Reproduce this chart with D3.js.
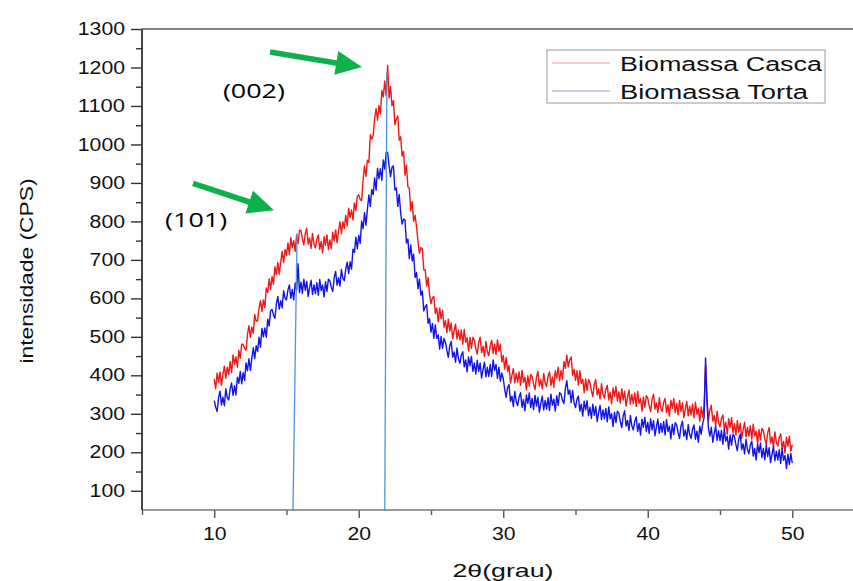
<!DOCTYPE html>
<html>
<head>
<meta charset="utf-8">
<script src="https://cdn.jsdelivr.net/npm/d3@7"></script>
<style>
  html, body { margin: 0; padding: 0; background: #fff; }
  svg { display: block; }
</style>
</head>
<body>
<svg id="chart" width="853" height="581"></svg>
<script>
// ---------------- DATA ----------------
// 2-theta sampling: start 10°, step 0.1°, 401 points (10 → 50); one row = one degree
const angleStart = 10;
const angleStep = 0.1;

const seriesNames = ["Biomassa Casca", "Biomassa Torta"];

// Biomassa Casca (red), intensities (CPS)
const casca = [
  390,365,406,382,409,374,401,424,392,421,
  402,436,407,453,428,448,421,465,444,481,
  481,470,465,506,529,499,525,509,558,541,
  541,574,594,566,596,576,627,615,651,623,
  657,637,682,662,693,663,694,722,693,727,
  712,744,714,758,732,750,722,764,742,777,
  776,754,739,769,782,741,757,730,769,741,
  731,754,765,727,748,718,760,738,765,727,
  752,729,772,749,778,745,774,799,768,799,
  782,816,788,834,810,830,804,848,828,865,
  869,857,854,909,944,917,959,953,1025,1014,
  1023,1067,1093,1063,1101,1079,1140,1124,1165,1127,
  1205,1121,1151,1101,1114,1051,1065,1074,1011,1020,
  970,982,920,947,890,886,827,851,800,816,
  786,748,717,732,729,674,674,632,654,611,
  586,602,605,561,575,539,575,548,569,525,
  542,511,546,515,536,495,516,533,494,517,
  492,518,481,519,486,498,463,499,470,499,
  491,470,455,486,499,459,475,449,488,461,
  451,477,491,457,481,454,492,463,481,435,
  452,416,446,410,426,380,400,418,380,405,
  382,409,374,413,382,395,362,399,372,402,
  396,377,363,396,410,372,389,365,405,380,
  371,397,409,374,396,369,412,393,421,386,
  412,390,436,418,452,422,440,448,400,416,
  387,412,375,412,379,390,355,390,361,389,
  381,360,345,376,389,349,365,339,378,351,
  341,364,374,336,356,326,367,345,371,333,
  357,328,365,336,359,320,343,362,325,350,
  327,354,319,358,327,340,307,344,317,347,
  341,321,306,338,351,312,328,303,342,316,
  306,330,340,303,323,294,335,314,340,303,
  327,298,335,306,329,290,313,332,295,320,
  297,325,290,330,299,313,280,318,291,322,
  425,340,282,310,322,281,296,269,307,278,
  266,288,297,259,278,247,287,264,290,251,
  274,245,282,252,275,236,259,278,240,265,
  242,269,234,273,242,255,222,259,232,262,
  256,235,220,251,264,224,240,214,253,226,
  216,238,248,209,229,198,239,216,242,203,
  220
];

// Biomassa Torta (blue), intensities (CPS)
const torta = [
  334,317,306,342,359,323,343,321,365,342,
  336,365,380,348,373,349,395,379,410,378,
  407,387,432,412,443,413,444,472,443,477,
  462,499,473,522,500,523,499,546,528,568,
  571,557,548,586,605,572,594,575,620,600,
  596,622,635,600,623,596,640,621,690,615,
  642,613,650,621,644,605,628,647,610,635,
  612,641,608,649,620,635,604,643,618,650,
  646,629,618,653,670,634,654,632,675,652,
  646,676,694,665,695,676,728,719,759,729,
  764,743,801,781,823,790,832,869,839,883,
  870,913,881,938,911,937,907,960,936,980,
  979,945,916,941,944,882,887,839,870,822,
  793,806,804,744,754,703,739,697,715,654,
  667,625,650,608,619,567,578,584,535,547,
  512,535,496,531,496,505,468,501,470,496,
  486,464,447,477,488,447,461,434,471,443,
  431,453,461,422,440,409,448,425,449,410,
  432,403,439,410,432,393,415,434,396,421,
  397,428,397,440,413,428,392,421,385,406,
  391,364,343,368,376,332,346,319,358,331,
  321,344,355,317,337,308,349,327,354,316,
  340,311,348,320,343,304,327,346,310,335,
  312,342,309,351,322,338,307,347,322,355,
  351,335,327,366,386,351,362,329,361,329,
  316,338,346,307,325,294,333,310,334,295,
  317,288,325,296,319,280,303,322,285,310,
  287,314,279,318,287,300,267,304,277,307,
  301,280,264,295,308,268,283,257,296,268,
  258,281,292,254,275,245,286,265,291,254,
  278,249,287,258,282,243,266,286,249,275,
  252,280,245,285,254,268,235,273,246,277,
  271,251,236,268,281,242,258,233,272,246,
  236,260,271,234,255,226,268,247,274,290,
  445,330,262,242,265,226,249,268,231,256,
  230,257,221,260,229,242,208,245,218,247,
  241,220,204,235,247,207,222,196,234,207,
  196,219,229,190,210,180,221,199,224,186,
  210,181,218,189,212,173,196,215,178,203,
  180,207,171,210,179,192,158,195,168,197,
  172
];

// axis ticks
const xMajorTicks = [10, 20, 30, 40, 50];
const xMinorTicks = [5, 15, 25, 35, 45, 55];
const yMajorTicks = [100,200,300,400,500,600,700,800,900,1000,1100,1200,1300];
const yMinorTicks = [150,250,350,450,550,650,750,850,950,1050,1150,1250];

// reference drop lines (data coords: [x0,y0] -> [x1,y1])
const dropLines = [
  [[15.45, 50], [15.73, 769]],
  [[21.80, 50], [21.95, 1188]]
];
// green arrows (data coords: tail -> tip)
const arrows = [
  [[13.86, 1240], [20.22, 1201]],
  [[8.53, 899], [14.13, 829]]
];
// peak labels (data coords of text start / baseline)
const peakLabels = [
  { text: "(002)", x: 10.6, y: 1120 },
  { text: "(101)", x: 6.6, y: 786 }
];

const xLabel = "2θ(grau)";
const yLabel = "intensidade (CPS)";

// ---------------- DRAW ----------------
(function () {
const svg = d3.select("#chart");
const W = 853, H = 581;
const pL = 142, pT = 29, pB = 510;

const x = d3.scaleLinear().domain([5, 55]).range([pL, pL + 50 * 14.45]);
const y = d3.scaleLinear().domain([50, 1300]).range([pB, pT]);

const angles = casca.map((_, i) => angleStart + i * angleStep);

svg.append("defs").append("clipPath").attr("id", "clip")
  .append("rect").attr("x", pL).attr("y", pT - 20)
  .attr("width", W - pL).attr("height", pB - pT + 20);

const plot = svg.append("g").attr("clip-path", "url(#clip)");

const line = d3.line().x(d => x(d[0])).y(d => y(d[1]));

const colors = ["#f01818", "#1414e6"];
[casca, torta].forEach((vals, k) => {
  plot.append("path")
    .datum(vals.map((v, i) => [angles[i], v]))
    .attr("d", line)
    .attr("fill", "none")
    .attr("stroke", colors[k])
    .attr("stroke-width", 1.4)
    .attr("stroke-linejoin", "round");
});

// drop lines
plot.selectAll(".drop").data(dropLines).enter().append("line")
  .attr("x1", d => x(d[0][0])).attr("y1", d => y(d[0][1]))
  .attr("x2", d => x(d[1][0])).attr("y2", d => y(d[1][1]))
  .attr("stroke", "#4f95dc").attr("stroke-width", 1.3);

// axes
const gx = svg.append("g").attr("transform", `translate(0,${pB})`);
gx.call(d3.axisBottom(x).tickValues(xMajorTicks).tickSize(8).tickPadding(10).tickFormat(d3.format("d")));
const gxm = svg.append("g").attr("transform", `translate(0,${pB})`);
gxm.call(d3.axisBottom(x).tickValues(xMinorTicks).tickSize(5).tickFormat(""));

const gy = svg.append("g").attr("transform", `translate(${pL},0)`);
gy.call(d3.axisLeft(y).tickValues(yMajorTicks).tickSize(11).tickPadding(6).tickFormat(d3.format("d")));
const gym = svg.append("g").attr("transform", `translate(${pL},0)`);
gym.call(d3.axisLeft(y).tickValues(yMinorTicks).tickSize(6).tickFormat(""));

[gx, gxm, gy, gym].forEach(g => {
  g.select(".domain").remove();
  g.selectAll(".tick line").attr("stroke", "#333").attr("stroke-width", 1.4);
});
gx.selectAll(".tick line").attr("stroke", "#555");
gxm.selectAll(".tick line").attr("stroke", "#555");

[gy, gx].forEach(g => g.selectAll(".tick text")
  .attr("font-family", "Liberation Sans, Arial, sans-serif")
  .attr("font-size", 17.5).attr("fill", "#111")
  .attr("textLength", function () { return this.textContent.length * 11.8; })
  .attr("lengthAdjust", "spacingAndGlyphs"));

// frame lines
svg.append("line").attr("x1", pL).attr("x2", W).attr("y1", pB).attr("y2", pB)
  .attr("stroke", "#777").attr("stroke-width", 1.6);
svg.append("line").attr("x1", pL).attr("x2", W).attr("y1", pT).attr("y2", pT)
  .attr("stroke", "#555").attr("stroke-width", 1.3);
svg.append("line").attr("x1", pL).attr("x2", pL).attr("y1", pT).attr("y2", pB)
  .attr("stroke", "#333").attr("stroke-width", 1.8);

// axis titles
svg.append("text").attr("x", 503).attr("y", 577)
  .attr("text-anchor", "middle")
  .attr("font-family", "Liberation Sans, Arial, sans-serif").attr("font-size", 19).attr("fill", "#111")
  .attr("textLength", 101).attr("lengthAdjust", "spacingAndGlyphs")
  .text(xLabel);
svg.append("text").attr("transform", "translate(33,271) rotate(-90)")
  .attr("text-anchor", "middle")
  .attr("font-family", "Liberation Sans, Arial, sans-serif").attr("font-size", 19).attr("fill", "#111")
  .attr("textLength", 185).attr("lengthAdjust", "spacingAndGlyphs")
  .text(yLabel);

// legend
const lg = svg.append("g");
lg.append("rect").attr("x", 547).attr("y", 50).attr("width", 278).attr("height", 53)
  .attr("fill", "#fff").attr("stroke", "#999").attr("stroke-width", 1);
const legendColors = ["#ee9a9a", "#9a9ad6"];
seriesNames.forEach((name, i) => {
  const yy = 63 + i * 28;
  lg.append("line").attr("x1", 552).attr("x2", 610).attr("y1", yy).attr("y2", yy)
    .attr("stroke", legendColors[i]).attr("stroke-width", 1.2);
  lg.append("text").attr("x", 620).attr("y", yy + 8)
    .attr("font-family", "Liberation Sans, Arial, sans-serif").attr("font-size", 20).attr("fill", "#111")
    .attr("textLength", i === 0 ? 202 : 188).attr("lengthAdjust", "spacingAndGlyphs")
    .text(name);
});

// arrows
const arrowColor = "#0db14b";
arrows.forEach(a => {
  const x0 = x(a[0][0]), y0 = y(a[0][1]), x1 = x(a[1][0]), y1 = y(a[1][1]);
  const ang = Math.atan2(y1 - y0, x1 - x0);
  const headLen = 26, headHalf = 12, shaft = 2.8;
  const bx = x1 - headLen * Math.cos(ang), by = y1 - headLen * Math.sin(ang);
  const nx = -Math.sin(ang), ny = Math.cos(ang);
  const pts = [
    [x0 + nx * shaft, y0 + ny * shaft],
    [bx + nx * shaft, by + ny * shaft],
    [bx + nx * headHalf, by + ny * headHalf],
    [x1, y1],
    [bx - nx * headHalf, by - ny * headHalf],
    [bx - nx * shaft, by - ny * shaft],
    [x0 - nx * shaft, y0 - ny * shaft]
  ];
  svg.append("polygon").attr("points", pts.map(p => p.join(",")).join(" "))
    .attr("fill", arrowColor);
});

// peak labels
svg.selectAll(".peak").data(peakLabels).enter().append("text")
  .attr("x", d => x(d.x)).attr("y", d => y(d.y))
  .attr("font-family", "Open Sans, Lato, sans-serif").attr("font-size", 20).attr("fill", "#000")
  .attr("textLength", 62).attr("lengthAdjust", "spacingAndGlyphs")
  .text(d => d.text);
})();
</script>
</body>
</html>
